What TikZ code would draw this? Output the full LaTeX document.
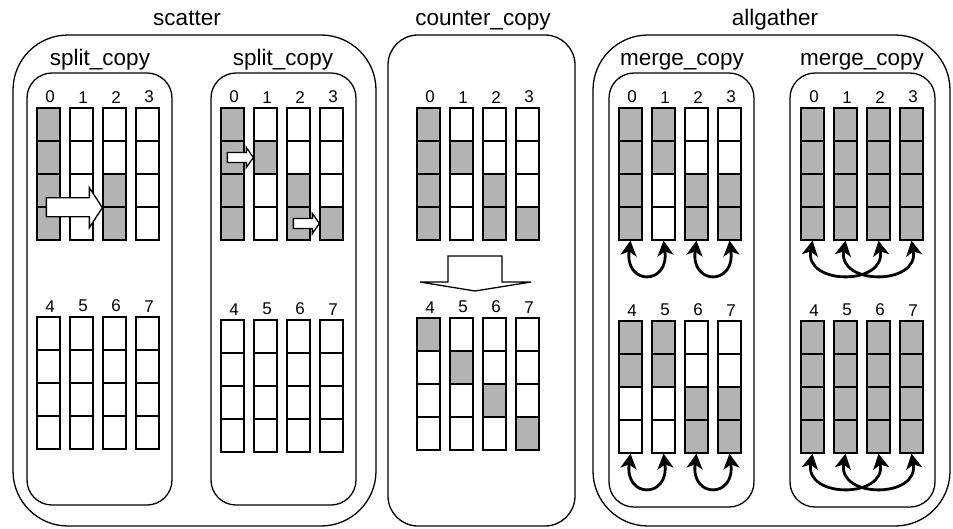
\documentclass[tikz,border=0pt]{standalone}
\usepackage{fontspec}
\setmainfont{Liberation Sans}
\usetikzlibrary{positioning,arrows.meta}
\definecolor{cellgray}{RGB}{179,179,179}
\tikzstyle{cell}=[draw, line width=1.3pt, minimum width=23pt, minimum height=33pt, inner sep=0pt]
\tikzstyle{digit}=[inner sep=0pt, font=\fontsize{17}{20}\selectfont]
\tikzstyle{title}=[inner sep=0pt, anchor=base, font=\fontsize{22.5}{26}\selectfont]
\tikzstyle{panel}=[line width=1.3pt]
\tikzstyle{blockarrow}=[draw, line width=1.3pt, fill=white, line join=miter]
\tikzstyle{exchange}=[line width=2.8pt, {Stealth[length=15pt,width=16pt,inset=4pt]}-{Stealth[length=15pt,width=16pt,inset=4pt]}]

% one buffer: name, x, top y, number, gray flags (top to bottom)
\newcommand{\bufcol}[5]{%
  \foreach \g [count=\r from 0] in {#5} {
    \ifnum\g=1 \def\cellfill{cellgray}\else\def\cellfill{white}\fi
    \node[cell, fill=\cellfill] (#1-\r) at (#2, #3+16.5+33*\r) {};
  }
  \node[digit, above=4pt of #1-0, xshift=1.5pt] (#1-num) {#4};
}

\begin{document}
\begin{tikzpicture}[x=1pt, y=-1pt]
\useasboundingbox (0,0) rectangle (953,528);
% Titles
    \node[title] (scatter) at (187,25) {scatter};
    \node[title] (counter) at (483,25) {counter\_copy};
    \node[title] (allgather) at (775,25) {allgather};
    \node[title] (splitA) at (100,65) {split\_copy};
    \node[title] (splitB) at (283,65) {split\_copy};
    \node[title] (mergeA) at (682,65) {merge\_copy};
    \node[title] (mergeB) at (862,65) {merge\_copy};
% Outer boxes
    \draw[panel, rounded corners=55pt] (13,35) rectangle (376,526);
    \draw[panel, rounded corners=30pt] (388,35) rectangle (575,526);
    \draw[panel, rounded corners=55pt] (593,35) rectangle (950,526);
% Inner boxes
    \draw[panel, rounded corners=25pt] (27,73) rectangle (172,505);
    \draw[panel, rounded corners=25pt] (211,73) rectangle (356,505);
    \draw[panel, rounded corners=25pt] (609,73) rectangle (754,507);
    \draw[panel, rounded corners=25pt] (790,73) rectangle (935,507);
% Scatter, first split_copy
    \bufcol{sa0}{48.5}{108}{0}{1,1,1,1}
    \bufcol{sa1}{81.5}{108}{1}{0,0,0,0}
    \bufcol{sa2}{114.5}{108}{2}{0,0,1,1}
    \bufcol{sa3}{147.5}{108}{3}{0,0,0,0}
    \bufcol{sa4}{48.5}{317}{4}{0,0,0,0}
    \bufcol{sa5}{81.5}{317}{5}{0,0,0,0}
    \bufcol{sa6}{114.5}{317}{6}{0,0,0,0}
    \bufcol{sa7}{147.5}{317}{7}{0,0,0,0}
% Scatter, second split_copy
    \bufcol{sb0}{232.5}{108}{0}{1,1,1,1}
    \bufcol{sb1}{265.5}{108}{1}{0,1,0,0}
    \bufcol{sb2}{298.5}{108}{2}{0,0,1,1}
    \bufcol{sb3}{331.5}{108}{3}{0,0,0,1}
    \bufcol{sb4}{232.5}{320}{4}{0,0,0,0}
    \bufcol{sb5}{265.5}{320}{5}{0,0,0,0}
    \bufcol{sb6}{298.5}{320}{6}{0,0,0,0}
    \bufcol{sb7}{331.5}{320}{7}{0,0,0,0}
% Copy arrows in scatter
    \draw[blockarrow] (sa2-2.south west) -- ++(-13,-20) -- ++(0,10) -- ++(-43,0)
        -- ++(0,19) -- ++(43,0) -- ++(0,11) -- cycle;
    \draw[blockarrow] (sb1-1.west) -- ++(-7,-10) -- ++(0,5) -- ++(-19,0)
        -- ++(0,10) -- ++(19,0) -- ++(0,5) -- cycle;
    \draw[blockarrow] (sb3-3.west) -- ++(-7,-10) -- ++(0,5) -- ++(-19,0)
        -- ++(0,10) -- ++(19,0) -- ++(0,5) -- cycle;
% Counter_copy
    \bufcol{cu0}{428.5}{108}{0}{1,1,1,1}
    \bufcol{cu1}{461.5}{108}{1}{0,1,0,0}
    \bufcol{cu2}{494.5}{108}{2}{0,0,1,1}
    \bufcol{cu3}{527.5}{108}{3}{0,0,0,1}
    \bufcol{cl0}{428.5}{318}{4}{1,0,0,0}
    \bufcol{cl1}{461.5}{318}{5}{0,1,0,0}
    \bufcol{cl2}{494.5}{318}{6}{0,0,1,0}
    \bufcol{cl3}{527.5}{318}{7}{0,0,0,1}
    \coordinate (flow) at (475,291);
    \draw[blockarrow] (flow) -- ++(56,-9) -- ++(-29,0) -- ++(0,-26) -- ++(-54,0)
        -- ++(0,26) -- ++(-28,0) -- cycle;
% Allgather, first merge_copy
    \bufcol{ma0}{630.5}{108}{0}{1,1,1,1}
    \bufcol{ma1}{663.5}{108}{1}{1,1,0,0}
    \bufcol{ma2}{696.5}{108}{2}{0,0,1,1}
    \bufcol{ma3}{729.5}{108}{3}{0,0,1,1}
    \bufcol{ma4}{630.5}{321}{4}{1,1,0,0}
    \bufcol{ma5}{663.5}{321}{5}{1,1,0,0}
    \bufcol{ma6}{696.5}{321}{6}{0,0,1,1}
    \bufcol{ma7}{729.5}{321}{7}{0,0,1,1}
% Allgather, second merge_copy
    \bufcol{mb0}{812.5}{108}{0}{1,1,1,1}
    \bufcol{mb1}{845.5}{108}{1}{1,1,1,1}
    \bufcol{mb2}{878.5}{108}{2}{1,1,1,1}
    \bufcol{mb3}{911.5}{108}{3}{1,1,1,1}
    \bufcol{mb4}{812.5}{321}{4}{1,1,1,1}
    \bufcol{mb5}{845.5}{321}{5}{1,1,1,1}
    \bufcol{mb6}{878.5}{321}{6}{1,1,1,1}
    \bufcol{mb7}{911.5}{321}{7}{1,1,1,1}
% Exchanges
    \draw[exchange] (ma0-3.south) .. controls +(-6,45) and +(6,45) .. (ma1-3.south);
    \draw[exchange] (ma2-3.south) .. controls +(-6,45) and +(6,45) .. (ma3-3.south);
    \draw[exchange] (ma4-3.south) .. controls +(-6,45) and +(6,45) .. (ma5-3.south);
    \draw[exchange] (ma6-3.south) .. controls +(-6,45) and +(6,45) .. (ma7-3.south);
    \draw[exchange] (mb0-3.south) .. controls +(-8,45) and +(8,45) .. (mb2-3.south);
    \draw[exchange] (mb1-3.south) .. controls +(-8,45) and +(8,45) .. (mb3-3.south);
    \draw[exchange] (mb4-3.south) .. controls +(-8,45) and +(8,45) .. (mb6-3.south);
    \draw[exchange] (mb5-3.south) .. controls +(-8,45) and +(8,45) .. (mb7-3.south);
\end{tikzpicture}
\end{document}
